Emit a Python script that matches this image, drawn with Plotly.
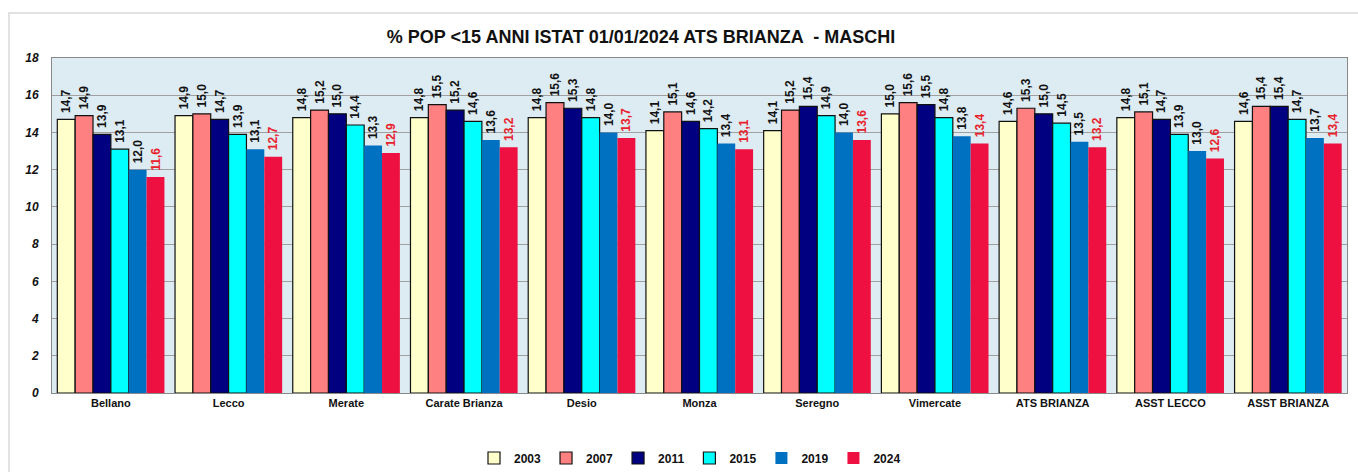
import plotly.graph_objects as go

categories = ["Bellano", "Lecco", "Merate", "Carate Brianza", "Desio", "Monza",
              "Seregno", "Vimercate", "ATS BRIANZA", "ASST LECCO", "ASST BRIANZA"]
years = ["2003", "2007", "2011", "2015", "2019", "2024"]
v2003 = [14.7, 14.9, 14.8, 14.8, 14.8, 14.1, 14.1, 15.0, 14.6, 14.8, 14.6]
v2007 = [14.9, 15.0, 15.2, 15.5, 15.6, 15.1, 15.2, 15.6, 15.3, 15.1, 15.4]
v2011 = [13.9, 14.7, 15.0, 15.2, 15.3, 14.6, 15.4, 15.5, 15.0, 14.7, 15.4]
v2015 = [13.1, 13.9, 14.4, 14.6, 14.8, 14.2, 14.9, 14.8, 14.5, 13.9, 14.7]
v2019 = [12.0, 13.1, 13.3, 13.6, 14.0, 13.4, 14.0, 13.8, 13.5, 13.0, 13.7]
v2024 = [11.6, 12.7, 12.9, 13.2, 13.7, 13.1, 13.6, 13.4, 13.2, 12.6, 13.4]
series = [v2003, v2007, v2011, v2015, v2019, v2024]

colors = ["#FFFFCC", "#FF8080", "#000080", "#00FFFF", "#0070C0", "#EE1040"]
outline = [1.2, 1.2, 1.2, 1.2, 0, 0]
label_colors = ["#111111"] * 5 + ["#E8202A"]

fig = go.Figure()
for y, vals, c, w, lc in zip(years, series, colors, outline, label_colors):
    fig.add_trace(go.Bar(
        name="<b>" + y + "</b>", x=categories, y=vals,
        marker=dict(color=c, line=dict(color="#111111", width=w)),
        texttemplate="\u00a0<b>%{y:.1f}</b>", textposition="outside", textangle=-90,
        constraintext="none",
        textfont=dict(family="Liberation Sans, Arial", size=12, color=lc),
        cliponaxis=False,
    ))

W, H = 1358, 472
L, R, T, B = 52, 11, 58, 79
pw, ph = W - L - R, H - T - B

fig.update_layout(
    width=W, height=H,
    margin=dict(l=L, r=R, t=T, b=B, autoexpand=False),
    separators=",.",
    barmode="group", bargap=0.09, bargroupgap=0,
    paper_bgcolor="white", plot_bgcolor="#DDEBF3",
    font=dict(family="Liberation Sans, Arial", color="#111111"),
    title=dict(text="<b>% POP <15 ANNI ISTAT 01/01/2024 ATS BRIANZA  - MASCHI</b>",
               font=dict(size=18, color="#111111"),
               x=(641 - L) / pw, xref="paper", xanchor="center",
               y=1 - 37 / H, yanchor="middle"),
    legend=dict(orientation="h", x=(690 - L) / pw, xanchor="center",
                y=(393 - 458) / ph, yanchor="middle",
                font=dict(size=12, color="#111111"),
                itemwidth=30, traceorder="normal", tracegroupgap=0),
)
fig.update_xaxes(
    tickfont=dict(size=11, color="#111111"),
    tickprefix="<b>", ticksuffix="</b>",
    showline=True, linecolor="#888888", linewidth=1, mirror=True,
    ticks="", showgrid=False,
)
fig.update_yaxes(
    range=[0, 18], dtick=2, tick0=0,
    tickprefix="<b><i>", ticksuffix="</i></b>",
    tickfont=dict(size=12, color="#111111"),
    showgrid=True, gridcolor="#A0A0A0", gridwidth=1,
    showline=True, linecolor="#888888", linewidth=1, mirror=True,
    zeroline=False, ticks="", ticklabelstandoff=10,
)
fig.add_shape(type="rect", xref="paper", yref="paper",
              x0=(9 - L) / pw, x1=(W + 5 - L) / pw,
              y0=(393 - (H + 5)) / ph, y1=(393 - 13) / ph,
              line=dict(color="#D9D9D9", width=1.5), fillcolor="rgba(0,0,0,0)",
              layer="below")

fig.write_html("out.html", config={"displayModeBar": False},
               post_script="document.body.style.margin='0';document.body.style.overflow='hidden';")
